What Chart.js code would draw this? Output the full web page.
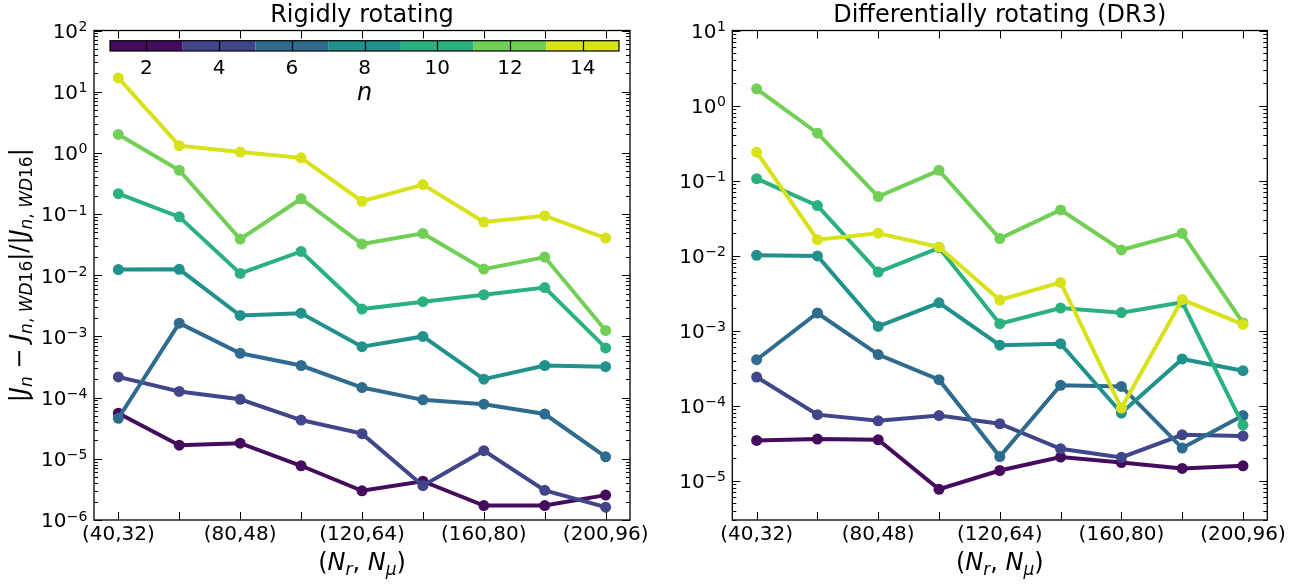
<!DOCTYPE html>
<html>
<head>
<meta charset="utf-8">
<script src="https://cdn.jsdelivr.net/npm/chart.js@4.4.0/dist/chart.umd.min.js"></script>
<style>
  body { margin: 0; background: #fff; width: 1311px; height: 585px; overflow: hidden; position: relative; }
  canvas { position: absolute; top: 0; }
</style>
</head>
<body>
<canvas id="rigid" width="660" height="585" style="left:0px"></canvas>
<canvas id="dr3" width="671" height="585" style="left:640px"></canvas>
<script>
// grid resolutions (N_r, N_mu)
const grids = ['(40,32)', '(60,40)', '(80,48)', '(100,56)', '(120,64)', '(140,72)', '(160,80)', '(180,88)', '(200,96)'];
const nValues = [2, 4, 6, 8, 10, 12, 14];
const nColors = ['#450c5e', '#41458a', '#2f6b8e', '#21918c', '#2bb07f', '#72cf56', '#d8e21a'];

// relative error of J_n, rigidly rotating model
const rigidN2  = [5.56e-5, 1.67e-5, 1.8e-5, 7.7e-6, 3.0e-6, 4.3e-6, 1.72e-6, 1.72e-6, 2.55e-6];
const rigidN4  = [2.18e-4, 1.26e-4, 9.4e-5, 4.3e-5, 2.58e-5, 3.64e-6, 1.36e-5, 3.05e-6, 1.62e-6];
const rigidN6  = [4.6e-5, 1.65e-3, 5.3e-4, 3.35e-4, 1.46e-4, 9.2e-5, 7.8e-5, 5.4e-5, 1.08e-5];
const rigidN8  = [0.0124, 0.0125, 2.2e-3, 2.4e-3, 6.8e-4, 1.0e-3, 2.0e-4, 3.35e-4, 3.2e-4];
const rigidN10 = [0.215, 0.09, 0.0107, 0.0245, 2.8e-3, 3.7e-3, 4.8e-3, 6.3e-3, 6.5e-4];
const rigidN12 = [2.0, 0.52, 0.039, 0.178, 0.0324, 0.0483, 0.0126, 0.0198, 1.25e-3];
const rigidN14 = [16.8, 1.31, 1.03, 0.83, 0.162, 0.303, 0.074, 0.094, 0.0405];

// relative error of J_n, differentially rotating model DR3
const dr3N2  = [3.45e-5, 3.6e-5, 3.52e-5, 7.7e-6, 1.37e-5, 2.07e-5, 1.75e-5, 1.46e-5, 1.58e-5];
const dr3N4  = [2.41e-4, 7.6e-5, 6.3e-5, 7.4e-5, 5.75e-5, 2.67e-5, 2.05e-5, 4.1e-5, 3.94e-5];
const dr3N6  = [4.1e-4, 1.72e-3, 4.8e-4, 2.22e-4, 2.1e-5, 1.87e-4, 1.81e-4, 2.73e-5, 7.4e-5];
const dr3N8  = [0.0101, 0.0099, 1.14e-3, 2.35e-3, 6.4e-4, 6.7e-4, 8.0e-5, 4.2e-4, 2.93e-4];
const dr3N10 = [0.106, 0.0464, 6.05e-3, 0.0127, 1.24e-3, 2.0e-3, 1.74e-3, 2.39e-3, 5.5e-5];
const dr3N12 = [1.67, 0.428, 0.0612, 0.137, 0.0169, 0.0407, 0.0119, 0.0198, 1.27e-3];
const dr3N14 = [0.239, 0.0163, 0.0199, 0.0130, 2.56e-3, 4.4e-3, 9.3e-5, 2.6e-3, 1.21e-3];

const rigidExps = [-6, -5, -4, -3, -2, -1, 0, 1, 2];
const dr3Exps = [-5, -4, -3, -2, -1, 0, 1];
const cbRange = [1, 15];

const FONT = '"DejaVu Sans", sans-serif';

// draw a row of text pieces (mixed fonts / sub-scripts) centred on x
function drawRuns(ctx, runs, x, y) {
    let w = 0;
    runs.forEach(r => { ctx.font = r.f; r.w = ctx.measureText(r.t).width; w += r.w; });
    let cx = x - w / 2;
    ctx.textAlign = 'left';
    ctx.textBaseline = 'alphabetic';
    runs.forEach(r => { ctx.font = r.f; ctx.fillText(r.t, cx, y + (r.dy || 0)); cx += r.w; });
}

const big = '24px ' + FONT, bigIt = 'italic 24px ' + FONT;
const sub = '17px ' + FONT, subIt = 'italic 17px ' + FONT;

function jSub() {
    return [
        { t: 'J', f: bigIt },
        { t: 'n', f: subIt, dy: 5 }, { t: ', ', f: sub, dy: 5 },
        { t: 'WD', f: subIt, dy: 5 }, { t: '16', f: sub, dy: 5 }
    ];
}

// box, inward ticks, tick labels, titles, colorbar
const decor = {
    id: 'decor',
    afterDraw(chart, args, opts) {
        const ctx = chart.ctx, a = chart.chartArea;
        const xs = chart.scales.x, ys = chart.scales.y;
        ctx.save();
        ctx.fillStyle = '#000';
        ctx.strokeStyle = '#000';

        // ticks
        ctx.lineWidth = 1;
        ctx.beginPath();
        grids.forEach((g, i) => {
            const px = Math.round(xs.getPixelForValue(i)) + 0.5;
            ctx.moveTo(px, a.bottom); ctx.lineTo(px, a.bottom - 8);
            ctx.moveTo(px, a.top); ctx.lineTo(px, a.top + 8);
        });
        const e0 = Math.floor(Math.log10(ys.min)), e1 = Math.ceil(Math.log10(ys.max));
        for (let e = e0; e <= e1; e++) {
            for (let k = 1; k <= 9; k++) {
                const v = k * Math.pow(10, e);
                if (v < ys.min * 0.999 || v > ys.max * 1.001) continue;
                const len = k === 1 ? 8 : 4;
                const py = Math.round(ys.getPixelForValue(v)) + 0.5;
                ctx.moveTo(a.left, py); ctx.lineTo(a.left + len, py);
                ctx.moveTo(a.right, py); ctx.lineTo(a.right - len, py);
            }
        }
        ctx.stroke();
        ctx.lineWidth = 1.3;
        ctx.strokeRect(a.left, a.top, a.right - a.left, a.bottom - a.top);

        // x tick labels, every other grid
        ctx.font = '20px ' + FONT;
        ctx.textAlign = 'center';
        ctx.textBaseline = 'alphabetic';
        grids.forEach((g, i) => {
            if (i % 2 === 0) ctx.fillText(g, xs.getPixelForValue(i), a.bottom + 20);
        });

        // y tick labels 10^e
        opts.exps.forEach(e => {
            const py = ys.getPixelForValue(Math.pow(10, e));
            const ex = e < 0 ? '\u2212' + (-e) : String(e);
            ctx.font = '20px ' + FONT;
            const wb = ctx.measureText('10').width;
            ctx.font = '14px ' + FONT;
            const we = ctx.measureText(ex).width;
            const x0 = a.left - 7 - wb - we;
            ctx.textAlign = 'left';
            ctx.font = '20px ' + FONT;
            ctx.fillText('10', x0, py + 7.3);
            ctx.font = '14px ' + FONT;
            ctx.fillText(ex, x0 + wb + 0.5, py + 0.5);
        });

        // title
        ctx.font = big;
        ctx.textAlign = 'center';
        ctx.fillText(opts.title, (a.left + a.right) / 2, 22);

        // x label (N_r, N_mu)
        drawRuns(ctx, [
            { t: '(', f: big }, { t: 'N', f: bigIt }, { t: 'r', f: subIt, dy: 5 },
            { t: ', ', f: big }, { t: 'N', f: bigIt }, { t: '\u03bc', f: subIt, dy: 5 },
            { t: ')', f: big }
        ], (a.left + a.right) / 2, 570);

        if (opts.ylabel) {
            ctx.save();
            ctx.translate(27, (a.top + a.bottom) / 2);
            ctx.rotate(-Math.PI / 2);
            drawRuns(ctx, [{ t: '|', f: big }, { t: 'J', f: bigIt }, { t: 'n', f: subIt, dy: 5 },
                { t: ' \u2212 ', f: big }]
                .concat(jSub(), [{ t: '|/|', f: big }], jSub(), [{ t: '|', f: big }]), 0, 0);
            ctx.restore();
        }

        if (opts.colorbar) {
            const cb = opts.colorbar;
            const toX = n => cb.x0 + (n - cbRange[0]) / (cbRange[1] - cbRange[0]) * (cb.x1 - cb.x0);
            nValues.forEach((n, k) => {
                ctx.fillStyle = nColors[k];
                ctx.fillRect(toX(n - 1), cb.y0, toX(n + 1) - toX(n - 1), cb.y1 - cb.y0);
            });
            ctx.fillStyle = '#000';
            ctx.lineWidth = 1.2;
            ctx.beginPath();
            nValues.forEach(n => {
                const px = Math.round(toX(n)) + 0.5;
                ctx.moveTo(px, cb.y0); ctx.lineTo(px, cb.y1);
            });
            ctx.stroke();
            ctx.strokeRect(cb.x0, cb.y0, cb.x1 - cb.x0, cb.y1 - cb.y0);
            ctx.font = '20px ' + FONT;
            ctx.textAlign = 'center';
            nValues.forEach(n => ctx.fillText(String(n), toX(n), cb.y1 + 23));
            ctx.font = bigIt;
            ctx.fillText('n', (cb.x0 + cb.x1) / 2, cb.y1 + 49);
        }
        ctx.restore();
    }
};

function makeChart(id, series, yMin, yMax, leftW, rightPad, decorOpts) {
    return new Chart(document.getElementById(id), {
        type: 'line',
        data: {
            datasets: nValues.map((n, k) => ({
                label: 'n = ' + n,
                data: series[k].map((v, i) => ({ x: i, y: v })),
                borderColor: nColors[k],
                backgroundColor: nColors[k],
                pointBackgroundColor: nColors[k],
                borderWidth: 4,
                pointRadius: 5.5,
                pointHoverRadius: 5.5,
                pointBorderWidth: 0,
                tension: 0,
                order: nValues.length - k
            }))
        },
        options: {
            responsive: false,
            animation: false,
            devicePixelRatio: 1,
            events: [],
            layout: { padding: { top: 30.5, right: rightPad, left: 0, bottom: 0 } },
            plugins: { legend: { display: false }, tooltip: { enabled: false }, decor: decorOpts },
            scales: {
                x: {
                    type: 'linear', min: -0.4, max: 8.4,
                    ticks: { display: false }, grid: { display: false }, border: { display: false },
                    afterFit: s => { s.height = 65; }
                },
                y: {
                    type: 'logarithmic', min: yMin, max: yMax,
                    ticks: { display: false }, grid: { display: false }, border: { display: false },
                    afterFit: s => { s.width = leftW; }
                }
            }
        },
        plugins: [decor]
    });
}

makeChart('rigid', [rigidN2, rigidN4, rigidN6, rigidN8, rigidN10, rigidN12, rigidN14], 1e-6, 1e2, 94, 30, {
    title: 'Rigidly rotating', exps: rigidExps, ylabel: true,
    colorbar: { x0: 110, x1: 619, y0: 40.7, y1: 51 }
});
makeChart('dr3', [dr3N2, dr3N4, dr3N6, dr3N8, dr3N10, dr3N12, dr3N14], 3e-6, 10, 92.3, 43.7, {
    title: 'Differentially rotating (DR3)', exps: dr3Exps, ylabel: false
});
</script>
</body>
</html>
